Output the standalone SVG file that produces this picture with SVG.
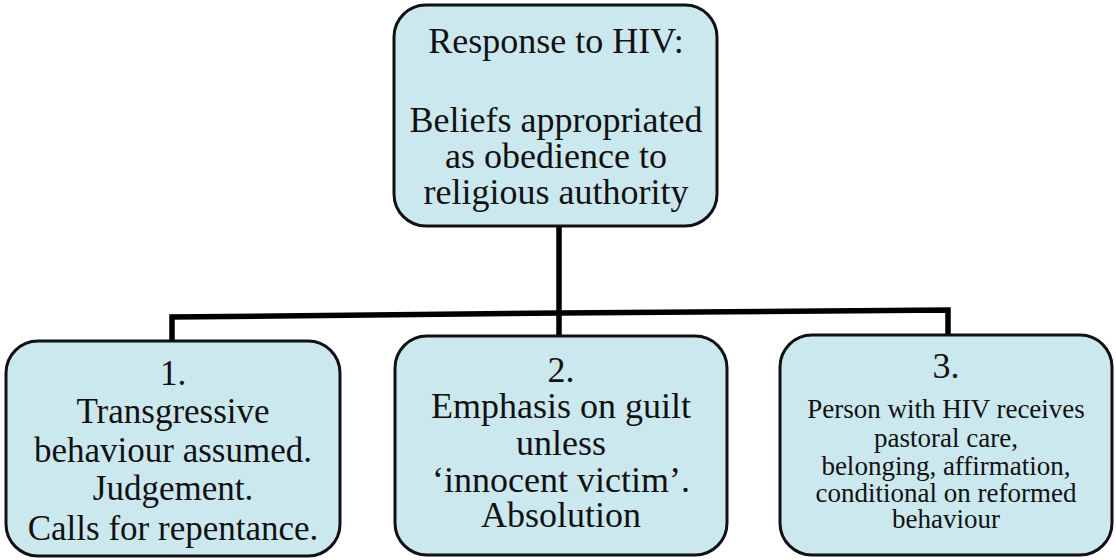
<svg xmlns="http://www.w3.org/2000/svg" width="1116" height="560" viewBox="0 0 1116 560">
<style>
.box{fill:#cce8ef;stroke:#111;stroke-width:3}
.t{font-family:"Liberation Serif","Times New Roman",serif;fill:#111;text-anchor:middle}
.l{font-size:36px}
.m{font-size:35px}
.s{font-size:27px}
.conn{fill:none;stroke:#000;stroke-width:5.5;stroke-linejoin:miter}
</style>
<rect width="1116" height="560" fill="#ffffff"/>
<g id="connectors">
<polyline class="conn" points="559,226 559,313"/>
<polyline class="conn" points="172,341 172,317 559,313 948,310 948,335"/>
<polyline class="conn" points="559,313 559,336"/>
</g>
<g id="root">
<rect class="box" x="394" y="5" width="323" height="221" rx="32"/>
<text class="t l" x="556" y="53">Response to HIV:</text>
<text class="t l" x="556" y="132">Beliefs appropriated</text>
<text class="t l" x="556" y="168">as obedience to</text>
<text class="t l" x="556" y="204">religious authority</text>
</g>
<g id="node1">
<rect class="box" x="6" y="341" width="334" height="215" rx="32"/>
<text class="t m" x="173" y="385">1.</text>
<text class="t m" x="173" y="423">Transgressive</text>
<text class="t m" x="173" y="462">behaviour assumed.</text>
<text class="t m" x="173" y="500">Judgement.</text>
<text class="t m" x="173" y="540">Calls for repentance.</text>
</g>
<g id="node2">
<rect class="box" x="395" y="336" width="332" height="219" rx="32"/>
<text class="t l" x="561" y="382">2.</text>
<text class="t l" x="561" y="418">Emphasis on guilt</text>
<text class="t l" x="561" y="455">unless</text>
<text class="t l" x="561" y="492">‘innocent victim’.</text>
<text class="t l" x="561" y="527">Absolution</text>
</g>
<g id="node3">
<rect class="box" x="780" y="335" width="332" height="220" rx="32"/>
<text class="t l" x="946" y="378">3.</text>
<text class="t s" x="946" y="418">Person with HIV receives</text>
<text class="t s" x="946" y="447">pastoral care,</text>
<text class="t s" x="946" y="475">belonging, affirmation,</text>
<text class="t s" x="946" y="502">conditional on reformed</text>
<text class="t s" x="946" y="528">behaviour</text>
</g>
</svg>
